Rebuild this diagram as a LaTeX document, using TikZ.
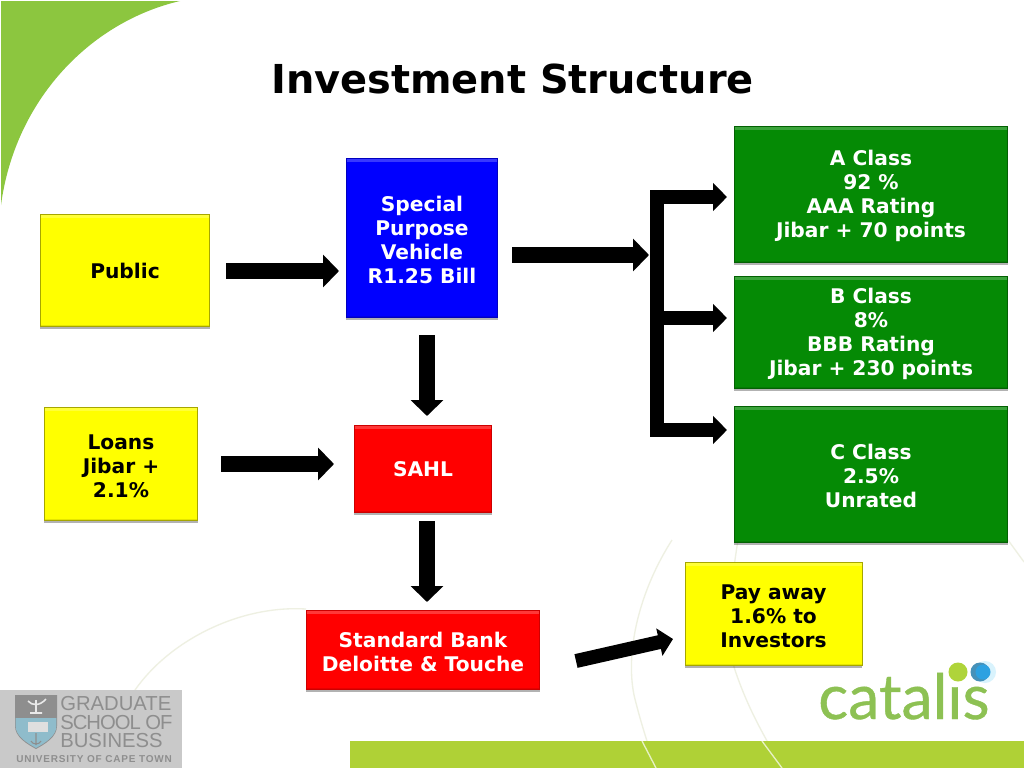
\documentclass[tikz,border=0pt]{standalone}
\usepackage{fontspec}
\setmainfont{DejaVu Sans}
\newfontfamily\catfont{Lato}
\newfontfamily\gsbfont{Liberation Sans}
\usetikzlibrary{arrows.meta,shadows}
\newcommand{\firstdown}{\rule{0pt}{14pt}}
\definecolor{cornergreen}{HTML}{8CC63F}
\definecolor{bargreen}{HTML}{AFD136}
\definecolor{faint}{HTML}{EEF0E2}
\definecolor{boxyellow}{HTML}{FFFF00}
\definecolor{boxblue}{HTML}{0000FF}
\definecolor{boxred}{HTML}{FF0000}
\definecolor{boxgreen}{HTML}{058A05}
\definecolor{gsbbg}{HTML}{C9C9C9}
\definecolor{gsbtext}{HTML}{8E8E8E}
\definecolor{catgreen}{HTML}{8DC153}
\definecolor{cbluelogo}{HTML}{8FBCCB}
\tikzset{
  x=0.75pt,y=-0.75pt,
  pbox/.style={rectangle,inner sep=0pt,align=center,font=\fontsize{15.15}{18}\selectfont\bfseries,
    drop shadow={shadow xshift=0pt,shadow yshift=-1.6pt,opacity=.3,fill=black},
    path picture={
      \fill[white,opacity=.22] (path picture bounding box.north west) rectangle ([yshift=-2.5pt]path picture bounding box.north east);
      \fill[black,opacity=.1] ([yshift=1.2pt]path picture bounding box.south west) rectangle (path picture bounding box.south east);
    }},
  ybox/.style={pbox,fill=boxyellow,draw=boxyellow!65!black,line width=.5pt,text=black},
  bbox/.style={pbox,fill=boxblue,draw=boxblue!75!black,line width=.4pt,text=white},
  rbox/.style={pbox,fill=boxred,draw=boxred!80!black,line width=.4pt,text=white},
  gbox/.style={pbox,fill=boxgreen,draw=boxgreen!70!black,line width=.5pt,text=white},
  fatarrow/.style={line width=12pt,draw=black,-{Triangle[length=12pt,width=24pt]}},
  fatarrowB/.style={line width=11pt,draw=black,miter limit=10,{Triangle[length=10.5pt,width=20.5pt]}-{Triangle[length=10.5pt,width=20.5pt]}},
  fatarrowC/.style={line width=10.5pt,draw=black,-{Triangle[length=10.5pt,width=20.5pt]}},
  arcline/.style={draw=faint,line width=1pt},
  gsbline/.style={anchor=base west,inner sep=0pt,text=gsbtext,text height=10.5pt,text depth=0pt,font=\gsbfont\fontsize{15.2}{16}\selectfont},
}
\begin{document}
\begin{tikzpicture}
\useasboundingbox (0,0) rectangle (1024,768);
\fill[white] (0,0) rectangle (1024,768);
% background arcs
\draw[arcline] (135,690) .. controls (170,640) and (240,605) .. (306,609);
\draw[arcline] (672,540) .. controls (640,590) and (625,650) .. (634,695) .. controls (640,720) and (648,745) .. (656,768);
\draw[arcline] (738,540) .. controls (730,590) and (725,640) .. (735,670) .. controls (750,715) and (770,745) .. (782,768);
\draw[arcline] (1008,540) -- (1024,562);
% corner
\fill[cornergreen] (1,1) -- (180,1) .. controls (90,22) and (15,100) .. (1,205) -- cycle;
% bottom bar
\fill[bargreen] (350,741) rectangle (1024,768);
\draw[white,opacity=.7,line width=1pt] (642,741) -- (656,768);
\draw[white,opacity=.7,line width=1pt] (762,741) -- (782,768);
% GSB logo
\fill[gsbbg] (0,690) rectangle (182,768);
\fill[gsbtext] (15,695) -- (57,695) -- (57,726) .. controls (57,737) and (45,744) .. (36,749) .. controls (27,744) and (15,737) .. (15,726) -- cycle;
\fill[cbluelogo] (15.6,718) -- (56.4,718) -- (56.4,726) .. controls (56.4,736) and (45,743) .. (36,748) .. controls (27,743) and (15.6,736) .. (15.6,726) -- cycle;
\fill[gsbbg!60!white] (28,722) rectangle (48,732);
\draw[gsbtext,line width=.8pt] (36,733) -- (36,745) (31,741) .. controls (33,745) and (39,745) .. (41,741);
\draw[gsbbg!40!white,line width=1.2pt] (28,701) .. controls (32,706) and (40,706) .. (46,699) (36,700) -- (36,712) (30,713) -- (42,713);
% GSB text
\node[gsbline] (gsb1) at (60,710) {GRADUATE};
\node[gsbline] (gsb2) at (60,729) {\addfontfeature{LetterSpace=-5}SCHOOL OF};
\node[gsbline] (gsb3) at (60,747.5) {BUSINESS};
\node[anchor=base west,inner sep=0pt,text=gsbtext,text height=6pt,text depth=0pt,font=\gsbfont\bfseries\fontsize{7.5}{8}\selectfont\addfontfeature{LetterSpace=8}] (gsb4) at (16,762) {UNIVERSITY OF CAPE TOWN};
% catalis
\node[anchor=base west,inner sep=0pt,text=catgreen,font=\catfont\fontsize{47}{47}\selectfont\addfontfeature{FakeBold=0.6}] (catalis) at (818,719) {catalıs};
\fill[catgreen!70!yellow] (958,672) circle (9.5);
\fill[cyan!15] (985,672) circle (11);
\fill[blue!35!cyan!45!gray] (980,672) circle (9.5);
\fill[cyan!80!blue!85] (983,672) circle (7.5);
% title
\node[inner sep=0pt,font=\fontsize{29.9}{36}\selectfont\bfseries,text=black] (title) at (512.5,79) {Investment Structure};
% boxes
\node[ybox,minimum width=127pt,minimum height=84pt] (public) at (125,270.5) {Public};
\node[bbox,minimum width=113.5pt,minimum height=119.5pt] (spv) at (422,238) {\firstdown Special\\Purpose\\Vehicle\\R1.25 Bill};
\node[ybox,minimum width=115pt,minimum height=85pt] (loans) at (121,464) {\firstdown Loans\\Jibar +\\2.1\%};
\node[rbox,minimum width=103pt,minimum height=65.5pt] (sahl) at (423,469) {SAHL};
\node[rbox,minimum width=175pt,minimum height=59.5pt] (std) at (423,650) {\firstdown Standard Bank\\Deloitte \& Touche};
\node[gbox,minimum width=205pt,minimum height=102pt] (aclass) at (871,194.5) {\firstdown A Class\\92 \%\\AAA Rating\\Jibar + 70 points};
\node[gbox,minimum width=205pt,minimum height=84pt] (bclass) at (871,332.5) {\firstdown B Class\\8\%\\BBB Rating\\Jibar + 230 points};
\node[gbox,minimum width=205pt,minimum height=102pt] (cclass) at (871,474.5) {\firstdown C Class\\2.5\%\\Unrated};
\node[ybox,minimum width=132.5pt,minimum height=77.5pt] (pay) at (773.5,614) {\firstdown Pay away\\1.6\% to\\Investors};
% connector end points
\coordinate (pubS) at (226,271);
\coordinate (pubE) at (339,271);
\coordinate (spvS) at (512,255);
\coordinate (spvE) at (649,255);
\coordinate (loanS) at (221,464);
\coordinate (loanE) at (334,464);
\coordinate (spvD) at (427,335);
\coordinate (sahlU) at (427,416);
\coordinate (sahlD) at (427,521);
\coordinate (stdU) at (427,602);
\coordinate (stdS) at (576,661);
\coordinate (payE) at (673,639);
\coordinate (brTop) at (657,197);
\coordinate (brMid) at (657,318);
\coordinate (brBot) at (657,430);
\coordinate (toA) at (727,197);
\coordinate (toB) at (727,318);
\coordinate (toC) at (727,430);
% connectors
\draw[fatarrow] (pubS) -- (pubE);
\draw[fatarrow] (spvS) -- (spvE);
\draw[fatarrow] (loanS) -- (loanE);
\draw[fatarrow] (spvD) -- (sahlU);
\draw[fatarrow] (sahlD) -- (stdU);
\draw[fatarrowC] (stdS) -- (payE);
\draw[fatarrowB] (toA) -- (brTop) -- (brBot) -- (toC);
\draw[fatarrowC] (brMid) -- (toB);
\end{tikzpicture}
\end{document}
